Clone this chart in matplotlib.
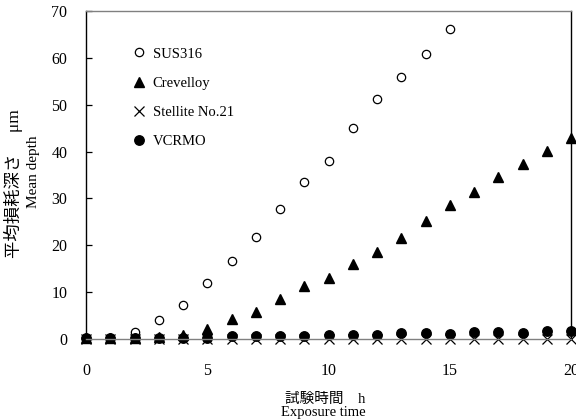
import numpy as np
import matplotlib
matplotlib.use("Agg")
import matplotlib.pyplot as plt

# exposure time (h)
hours = list(range(0, 21))

# mean depth (um)
sus316 = [0.2, 0.2, 1.4, 4.1, 7.3, 12.0, 16.7, 21.8, 27.7, 33.6, 38.0,
          45.1, 51.3, 56.0, 60.8, 66.1]
crevelloy = [0.2, 0.2, 0.3, 0.4, 0.9, 2.1, 4.2, 5.8, 8.6, 11.3, 13.1,
             16.0, 18.6, 21.6, 25.2, 28.7, 31.3, 34.6, 37.3, 40.2, 42.8]
stellite = [0.05] * 21
vcrmo = [0.2, 0.2, 0.2, 0.3, 0.3, 0.3, 0.7, 0.7, 0.7, 0.6, 0.9,
         0.9, 0.9, 1.2, 1.2, 1.1, 1.4, 1.4, 1.35, 1.8, 1.75]

serif = ["Liberation Serif", "DejaVu Serif"]
jp = ["Liberation Serif", "Noto Sans CJK JP", "DejaVu Sans"]

W, H = 576.0, 420.0
fig = plt.figure(figsize=(5.76, 4.2), dpi=100)
ax = fig.add_axes([86 / W, 1 - 339 / H, 485 / W, 328 / H])

ax.plot(hours[:len(sus316)], sus316, linestyle="none", marker="o",
        markersize=6, markerfacecolor="white", markeredgecolor="black",
        markeredgewidth=0.9, clip_on=False, label="SUS316")
ax.plot(hours, crevelloy, linestyle="none", marker="^", markersize=7.5,
        color="black", clip_on=False, label="Crevelloy")
ax.plot(hours, stellite, linestyle="none", marker="x", markersize=6.5,
        color="black", markeredgewidth=0.9, clip_on=False,
        label="Stellite No.21")
ax.plot(hours, vcrmo, linestyle="none", marker="o", markersize=6.8,
        color="black", clip_on=False, label="VCRMO")

ax.set_xlim(0, 20)
ax.set_ylim(0, 70)
ax.set_xticks([0, 5, 10, 15, 20])
ax.set_yticks(range(0, 71, 10))

for lab in ax.get_xticklabels() + ax.get_yticklabels():
    lab.set_family(serif)
    lab.set_fontsize(11.5)

ax.tick_params(axis="x", length=0, pad=17)
ax.tick_params(axis="y", direction="in", length=4, width=0.9, pad=13.5)

ax.spines["left"].set_color("black")
ax.spines["right"].set_color("black")
ax.spines["top"].set_color("#808080")
ax.spines["bottom"].set_color("#808080")
for s in ax.spines.values():
    s.set_linewidth(1.0)

# axis titles (Japanese line over English line)
fig.text(325 / W, 1 - 399 / H, "試験時間　h", family=jp, fontsize=10.5,
         ha="center", va="center")
fig.text(323 / W, 1 - 412.5 / H, "Exposure time", family=serif, fontsize=10.5,
         ha="center", va="center")
fig.text(13 / W, 1 - 184 / H, "平均損耗深さ　 μm", family=jp, fontsize=12.5,
         rotation=90, ha="center", va="center")
fig.text(33 / W, 1 - 172 / H, "Mean depth", family=serif, fontsize=11,
         rotation=90, ha="center", va="center")

leg = ax.legend(loc="upper left", bbox_to_anchor=(0.08, 0.907), frameon=False,
                prop={"family": serif, "size": 10.5}, labelspacing=1.1,
                handletextpad=0.3, handlelength=1.2, borderaxespad=0)

fig.savefig("out.png", dpi=100)
